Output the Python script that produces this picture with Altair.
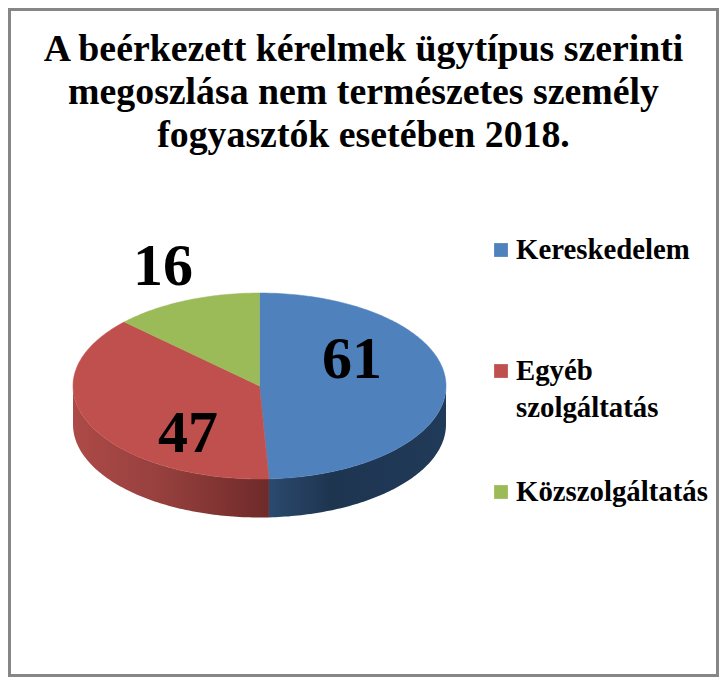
import math
import altair as alt
import pandas as pd

categories = ["Kereskedelem", "Egyéb szolgáltatás", "Közszolgáltatás"]
values = [61, 47, 16]
colors = ["#4F81BD", "#C0504D", "#9BBB59"]
title_lines = ["A beérkezett kérelmek ügytípus szerinti",
               "megoszlása nem természetes személy",
               "fogyasztók esetében 2018."]
legend_labels = ["Kereskedelem", "Egyéb\nszolgáltatás", "Közszolgáltatás"]

# layout (picture coordinates)
W, H = 711, 669
X0, X1, Y0, Y1 = 8, 719, 8, 677
CX, CY, A, B, DEPTH = 259.5, 386, 186.5, 93, 38.5
label_pos = [(352, 378), (188, 452), (163, 285)]
legend_pos = [(501, 250), (501, 371), (501, 492)]

total = sum(values)
poly, walls = [], []
start = 0.0
for cat, v in zip(categories, values):
    end = start + v / total * 360
    n = max(2, int(end - start))
    angs = [start + (end - start) * i / n for i in range(n + 1)]
    rows = [(CX, CY)] + [(CX + A * math.sin(math.radians(a)), CY - B * math.cos(math.radians(a))) for a in angs] + [(CX, CY)]
    for i, (x, y) in enumerate(rows):
        poly.append(dict(category=cat, x=x, y=y, o=i))
    wall_a = [a for a in angs if 90 <= a <= 270]
    for a in sorted(set(wall_a + ([90.0] if start < 90 < end else []) + ([270.0] if start < 270 < end else []))):
        x = CX + A * math.sin(math.radians(a))
        y = CY - B * math.cos(math.radians(a))
        walls.append(dict(category=cat, x=x, y=y, y2=y + DEPTH))
    start = end
poly = pd.DataFrame(poly)
walls = pd.DataFrame(walls)

xs = alt.Scale(domain=[X0, X1], nice=False, zero=False)
ys = alt.Scale(domain=[Y1, Y0], nice=False, zero=False)
X = alt.X("x:Q", scale=xs, axis=None)
Y = alt.Y("y:Q", scale=ys, axis=None)
cscale = alt.Scale(domain=categories, range=colors)

def grad(stops):
    return alt.LinearGradient(gradient="linear", x1=0, x2=1, y1=0, y2=0,
                              stops=[alt.GradientStop(offset=o, color=c) for o, c in stops])

wall_red = alt.Chart(walls[walls.category == categories[1]]).mark_area(
    color=grad([(0, "#AD4A47"), (0.45, "#96403E"), (1, "#6E2A29")])
).encode(x=X, y=Y, y2="y2:Q")
wall_blue = alt.Chart(walls[walls.category == categories[0]]).mark_area(
    color=grad([(0, "#2B4A6E"), (0.35, "#1E3550"), (1, "#203A59")])
).encode(x=X, y=Y, y2="y2:Q")

top = alt.Chart(poly).mark_line(strokeWidth=0.5).encode(
    x=X, y=Y, order="o:Q",
    detail="category:N",
    fill=alt.Fill("category:N", scale=cscale, legend=None),
    stroke=alt.Stroke("category:N", scale=cscale, legend=None),
)

labels = pd.DataFrame(dict(value=values, x=[p[0] for p in label_pos], y=[p[1] for p in label_pos]))
nums = alt.Chart(labels).mark_text(font="Liberation Serif", fontWeight="bold", fontSize=60,
                                   color="black", baseline="alphabetic").encode(x=X, y=Y, text="value:Q")

leg = pd.DataFrame(dict(category=categories, label=legend_labels,
                        x=[p[0] for p in legend_pos], y=[p[1] for p in legend_pos]))
swatch = alt.Chart(leg).mark_point(shape="square", filled=True, size=190, opacity=1).encode(
    x=X, y=Y, fill=alt.Fill("category:N", scale=cscale, legend=None))
leg_text = alt.Chart(leg).transform_calculate(tx="datum.x + 15", ty="datum.y + 9").mark_text(
    font="Liberation Serif", fontWeight="bold", fontSize=28.8, align="left", baseline="alphabetic",
    lineBreak="\n", lineHeight=37, color="black"
).encode(x=alt.X("tx:Q", scale=xs, axis=None), y=alt.Y("ty:Q", scale=ys, axis=None), text="label:N")

frame = alt.Chart(pd.DataFrame({"a": [0]})).mark_rect(fill="white", fillOpacity=0, stroke="#868686", strokeWidth=3).encode(
    x=alt.value(1.5), x2=alt.value(W - 1.5), y=alt.value(1.5), y2=alt.value(H - 1.5))

chart = alt.layer(frame, wall_red, wall_blue, top, nums, swatch, leg_text).properties(
    width=W, height=H,
    title=alt.TitleParams(text=title_lines, font="Liberation Serif", fontWeight="bold", fontSize=37.8,
                          color="black", lineHeight=43, anchor="middle", offset=-147),
    padding=0, background="white",
).resolve_scale(fill="shared", stroke="shared").configure_view(stroke=None)

chart.save("out.html", embed_options={"renderer": "svg", "actions": False})
